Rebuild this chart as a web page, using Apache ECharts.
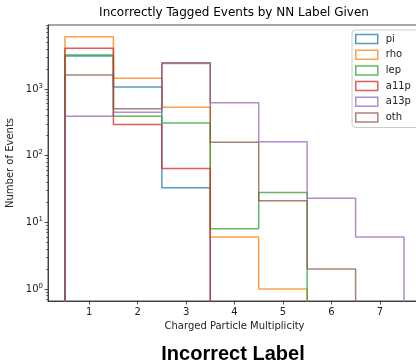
<!DOCTYPE html>
<html>
<head>
<meta charset="utf-8">
<script src="https://cdn.jsdelivr.net/npm/echarts@6/dist/echarts.min.js"></script>
<style>
html,body{margin:0;padding:0;background:#fff;}
#chart{width:416px;height:364px;}
</style>
</head>
<body>
<div id="chart"></div>
<script>
// ---- data ----
const multiplicity = [1, 2, 3, 4, 5, 6, 7];
const seriesNames = ['pi', 'rho', 'lep', 'a11p', 'a13p', 'oth'];
const piCounts   = [3110, 1070, 33, 0, 0, 0, 0];
const rhoCounts  = [6040, 1450, 530, 6, 1, 0, 0];
const lepCounts  = [3240, 389, 309, 8, 28, 0, 0];
const a11pCounts = [4060, 294, 64, 0, 0, 0, 0];
const a13pCounts = [389, 446, 2400, 620, 161, 23, 6];
const othCounts  = [1620, 505, 2470, 159, 21, 2, 0];
const yTickValues = [1, 10, 100, 1000];
const xTickValues = [1, 2, 3, 4, 5, 6, 7];
const titleText = 'Incorrectly Tagged Events by NN Label Given';
const xName = 'Charged Particle Multiplicity';
const yName = 'Number of Events';
const bottomText = 'Incorrect Label';

const colors = ['#1f77b4', '#ff7f0e', '#2ca02c', '#d62728', '#9467bd', '#8c564b'];
const allCounts = [piCounts, rhoCounts, lepCounts, a11pCounts, a13pCounts, othCounts];

// step outline for a histogram (bins centered on integer multiplicities)
const FLOOR = 1e-3;
function stepPoints(counts) {
  const pts = [];
  const v = c => (c > 0 ? c : FLOOR);
  pts.push([multiplicity[0] - 0.5, FLOOR]);
  counts.forEach((c, i) => {
    pts.push([multiplicity[i] - 0.5, v(c)]);
    pts.push([multiplicity[i] + 0.5, v(c)]);
  });
  pts.push([multiplicity[multiplicity.length - 1] + 0.5, FLOOR]);
  return pts;
}

// minor log ticks
const minorTicks = [];
for (let e = -1; e <= 3; e++) {
  for (let m = 2; m <= 9; m++) {
    const val = m * Math.pow(10, e);
    if (val > 0.66 && val < 9100) minorTicks.push(val);
  }
}

const FONT = 'DejaVu Sans';
const chart = echarts.init(document.getElementById('chart'), null, {renderer: 'canvas'});

const series = seriesNames.map((n, i) => ({
  name: n,
  type: 'line',
  data: stepPoints(allCounts[i]),
  showSymbol: false,
  symbol: 'none',
  clip: true,
  animation: false,
  lineStyle: {color: colors[i], width: 1.5, opacity: 0.75},
  itemStyle: {color: colors[i]},
  emphasis: {disabled: true}
}));

const option = {
  animation: false,
  backgroundColor: '#fff',
  grid: {left: 48, top: 25, width: 373, height: 276, show: true, borderColor: '#222', borderWidth: 0.8, containLabel: false, outerBoundsMode: 'none'},
  xAxis: {
    type: 'value', min: 0.15, max: 7.85,
    axisLine: {show: true, onZero: false, lineStyle: {color: '#222', width: 0.8}},
    axisTick: {show: true, customValues: xTickValues, length: 3.5, lineStyle: {color: '#222', width: 0.8}},
    axisLabel: {customValues: xTickValues, margin: 6, fontFamily: FONT, fontSize: 10, color: '#222'},
    splitLine: {show: false},
    name: xName, nameLocation: 'middle', nameGap: 20,
    nameTextStyle: {fontFamily: FONT, fontSize: 10, color: '#222'}
  },
  yAxis: [{
    type: 'log', logBase: 10, min: 0.66, max: 9100,
    axisLine: {show: true, lineStyle: {color: '#222', width: 0.8}},
    axisTick: {show: true, customValues: yTickValues, length: 3.5, lineStyle: {color: '#222', width: 0.8}},
    axisLabel: {
      customValues: yTickValues, margin: 5,
      formatter: v => '{b|10}{s|' + Math.round(Math.log10(v)) + '}',
      rich: {
        b: {fontFamily: FONT, fontSize: 10, color: '#222'},
        s: {fontFamily: FONT, fontSize: 7, color: '#222', padding: [0, 0, 6, 0]}
      }
    },
    splitLine: {show: false}, minorTick: {show: false},
    name: yName, nameLocation: 'middle', nameGap: 28,
    nameTextStyle: {fontFamily: FONT, fontSize: 10, color: '#222'}
  }, {
    type: 'log', logBase: 10, min: 0.66, max: 9100, position: 'left',
    axisLine: {show: false},
    axisTick: {show: true, customValues: minorTicks, length: 2, lineStyle: {color: '#222', width: 0.6}},
    axisLabel: {show: false},
    splitLine: {show: false}
  }],
  legend: {
    orient: 'vertical', left: 352, top: 30,
    icon: 'rect', itemWidth: 22, itemHeight: 9,
    itemGap: 3.7,
    padding: [3, 40, 4, 3],
    backgroundColor: '#fff', borderColor: '#ccc', borderWidth: 1, borderRadius: 3,
    textStyle: {fontFamily: FONT, fontSize: 10, color: '#222', lineHeight: 12, padding: [0, 0, 0, 3]},
    selectedMode: false,
    data: seriesNames.map((n, i) => ({
      name: n,
      itemStyle: {color: 'rgba(255,255,255,0)', borderColor: colors[i], borderWidth: 1.5, opacity: 0.75},
      lineStyle: {width: 0, opacity: 0}
    }))
  },
  graphic: [
    {type: 'text', x: 234, y: 13, style: {text: titleText, fontFamily: FONT, fontSize: 12, fill: '#000', align: 'center', verticalAlign: 'middle'}},
    {type: 'text', x: 233, y: 354, style: {text: bottomText, fontFamily: 'Liberation Sans', fontSize: 20, fontWeight: 'bold', fill: '#000', align: 'center', verticalAlign: 'middle'}}
  ],
  series: series
};
chart.setOption(option);
</script>
</body>
</html>
